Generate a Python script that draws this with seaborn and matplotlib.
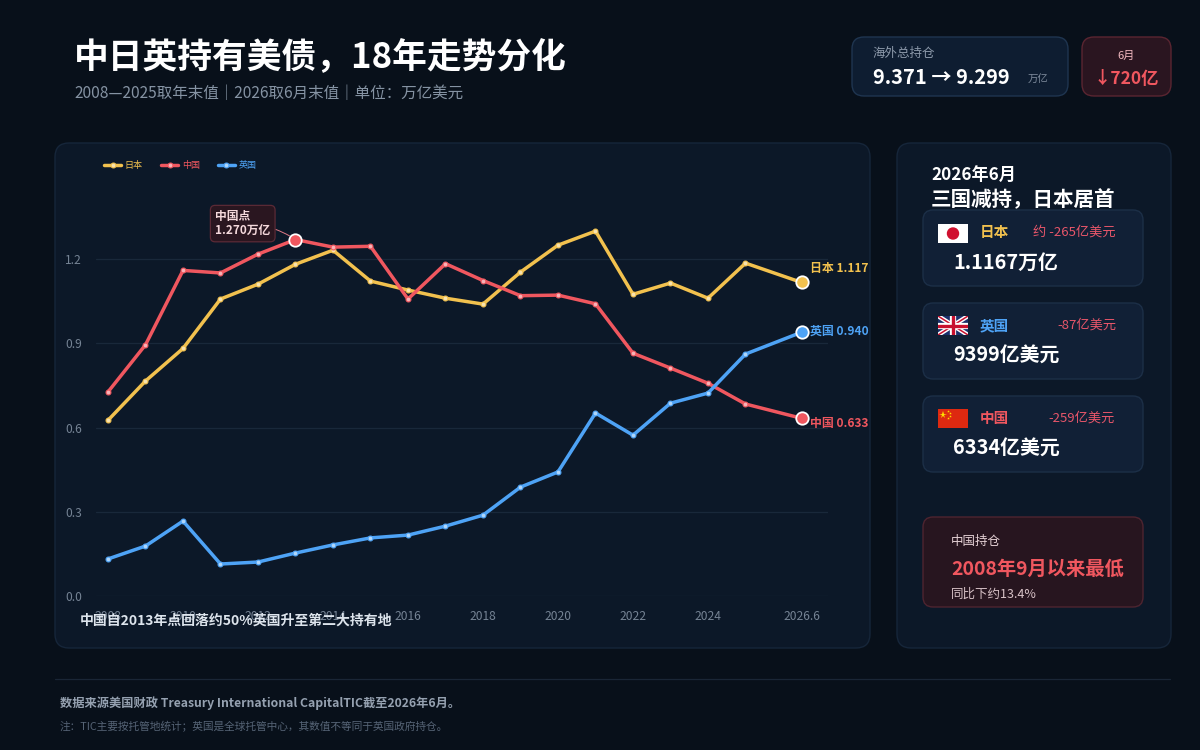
import matplotlib
matplotlib.use("Agg")
import matplotlib.pyplot as plt
from matplotlib.patches import FancyBboxPatch, Rectangle, Circle
import numpy as np
import pandas as pd
import seaborn as sns

# 数据（万亿美元），2008—2025 年末值，最后一点为 2026 年 6 月
years = [2008, 2009, 2010, 2011, 2012, 2013, 2014, 2015, 2016, 2017,
         2018, 2019, 2020, 2021, 2022, 2023, 2024, 2025, 2026.5]
japan = [0.626, 0.766, 0.882, 1.058, 1.111, 1.182, 1.232, 1.122, 1.090, 1.061,
         1.040, 1.154, 1.250, 1.300, 1.075, 1.115, 1.061, 1.186, 1.117]
china = [0.727, 0.895, 1.160, 1.151, 1.218, 1.270, 1.243, 1.246, 1.058, 1.184,
         1.124, 1.070, 1.072, 1.041, 0.865, 0.812, 0.758, 0.684, 0.633]
uk = [0.132, 0.178, 0.267, 0.114, 0.121, 0.153, 0.182, 0.207, 0.217, 0.249,
      0.288, 0.388, 0.442, 0.652, 0.573, 0.687, 0.723, 0.862, 0.940]

countries = ["日本", "中国", "英国"]
series = {"日本": japan, "中国": china, "英国": uk}
colors = {"日本": "#f2c14e", "中国": "#f0575f", "英国": "#4ea3f6"}
label_dy = {"日本": 10, "中国": -3.5, "英国": 1}

xtick_pos = [2008, 2010, 2012, 2014, 2016, 2018, 2020, 2022, 2024, 2026.5]
xtick_labels = ["2008", "2010", "2012", "2014", "2016", "2018", "2020", "2022", "2024", "2026.6"]
ytick_pos = [0.0, 0.3, 0.6, 0.9, 1.2]

BG = "#08101a"
PANEL = "#0c1828"
PANEL_EDGE = "#16263a"
CARD = "#112036"
CARD_EDGE = "#1c2f47"
RED_CARD = "#27151f"
RED_EDGE = "#4e2430"
W, H = 1200, 750

sns.set_theme(style="dark")
plt.rcParams["font.family"] = ["Noto Sans CJK SC", "DejaVu Sans"]

fig = plt.figure(figsize=(12, 7.5), dpi=100, facecolor=BG)


def box(x0, y0, x1, y1, fc, ec, r=0.12, lw=1.0, z=-2):
    # 像素坐标（左上为原点）→ 英寸
    p = FancyBboxPatch((x0 / 100, (H - y1) / 100), (x1 - x0) / 100, (y1 - y0) / 100,
                       boxstyle=f"round,pad=0,rounding_size={r}",
                       transform=fig.dpi_scale_trans, facecolor=fc, edgecolor=ec,
                       linewidth=lw, zorder=z)
    fig.patches.append(p)


def txt(x, y, s, size, color, weight="normal", ha="left"):
    fig.text(x / W, 1 - y / H, s, fontsize=size, color=color, fontweight=weight,
             ha=ha, va="center", zorder=5)


# 标题
txt(74, 58, "中日英持有美债，18年走势分化", 25, "#ffffff", "bold")
txt(74, 93, "2008—2025取年末值｜2026取6月末值｜单位：万亿美元", 11.2, "#8593a3")

# 顶部卡片
box(852, 37, 1068, 96, "#0e1d31", "#1f3550")
txt(873, 53, "海外总持仓", 9, "#8d9aab")
txt(873, 78, "9.371 → 9.299", 14.5, "#ffffff", "bold")
txt(1028, 79, "万亿", 7.5, "#7d8a9b")
box(1082, 37, 1171, 96, "#2a1520", "#5a2531")
txt(1126, 56, "6月", 8, "#f3b9c0", ha="center")
txt(1126, 79, "↓720亿", 12.5, "#f0575f", "bold", ha="center")

# 面板
box(55, 143, 870, 648, PANEL, PANEL_EDGE, r=0.14, z=-3)
box(897, 143, 1171, 648, PANEL, PANEL_EDGE, r=0.14, z=-3)

# 主图
ax = fig.add_axes([96 / W, 1 - 596 / H, (828 - 96) / W, (596 - 175) / H])
ax.set_zorder(1)
ax.patch.set_alpha(0)
df = pd.concat([pd.DataFrame({"year": years, "value": series[c], "country": c})
                for c in countries], ignore_index=True)
sns.lineplot(data=df, x="year", y="value", hue="country", hue_order=countries,
             palette=colors, linewidth=2.5, marker="o", markersize=3.5,
             markeredgewidth=0.8, legend=False, ax=ax, errorbar=None)

for line, c in zip(ax.lines[:3], countries):
    rgb = np.array(matplotlib.colors.to_rgb(colors[c]))
    line.set_markerfacecolor(rgb * 0.45 + 0.55)
    line.set_markeredgecolor(colors[c])
    line.set_solid_capstyle("round")
    line.set_solid_joinstyle("round")

leg = ax.legend(ax.lines[:3], countries, loc="upper left",
                bbox_to_anchor=(96 / W, 1 - 153 / H), bbox_transform=fig.transFigure,
                ncol=3, frameon=False, fontsize=6.5, labelcolor="linecolor",
                handlelength=1.9, handletextpad=0.4, columnspacing=2.0)

for c in countries:
    vals = series[c]
    ax.scatter([years[-1]], [vals[-1]], s=80, color=colors[c], edgecolor="white",
               linewidth=1.3, zorder=6)
    ax.annotate(f"{c} {vals[-1]:.3f}", (years[-1], vals[-1]), xytext=(6, label_dy[c]),
                textcoords="offset points", color=colors[c], fontsize=8.6,
                fontweight="bold", va="center", annotation_clip=False)

peak = china.index(max(china))
ax.scatter([years[peak]], [china[peak]], s=80, color=colors["中国"], edgecolor="white",
           linewidth=1.3, zorder=6)
ax.annotate(f"中国点\n{china[peak]:.3f}万亿", (years[peak], china[peak]),
            xytext=(-38, 11.5), textcoords="offset points", ha="center", va="center",
            multialignment="left", fontsize=8.5, fontweight="bold", color="#f5d9dc",
            linespacing=1.1,
            bbox=dict(boxstyle="round,pad=0.4,rounding_size=0.4", fc="#2a1620",
                      ec="#5b2a36", lw=0.9),
            arrowprops=dict(arrowstyle="-", color="#e07a86", lw=0.7,
                            shrinkA=0, shrinkB=5, connectionstyle="arc3,rad=-0.15"),
            zorder=7)

ax.set_xlim(2007.68, 2027.2)
ax.set_ylim(0, 1.5)
ax.set_xticks(xtick_pos, xtick_labels)
ax.set_yticks(ytick_pos, [f"{v:.1f}" for v in ytick_pos])
ax.tick_params(axis="both", length=0, labelsize=8.7, labelcolor="#75839465"[:7])
ax.tick_params(axis="x", pad=10)
ax.tick_params(axis="y", pad=10)
ax.yaxis.grid(True, color="#19283a", linewidth=0.9)
ax.xaxis.grid(False)
for s in ax.spines.values():
    s.set_visible(False)
ax.set_xlabel("")
ax.set_ylabel("")

txt(80, 621, "中国自2013年点回落约50%英国升至第二大持有地", 10, "#dde4ec", "bold")

# 右侧面板
txt(931, 175, "2026年6月", 12.3, "#ffffff", "bold")
txt(931, 200, "三国减持，日本居首", 14.8, "#ffffff", "bold")

cards = [
    (210, "日本", "约 -265亿美元", "1.1167万亿", 1033),
    (303, "英国", "-87亿美元", "9399亿美元", 1057),
    (396, "中国", "-259亿美元", "6334亿美元", 1048),
]
for top, name, delta, total, dx in cards:
    box(923, top, 1143, top + 76, CARD, CARD_EDGE, r=0.1, z=-1)
    txt(980, top + 22, name, 10.5, colors[name], "bold")
    txt(dx, top + 22, delta, 9.5, "#e8566a")
    txt(953, top + 52, total, 14.3, "#ffffff", "bold")

# 国旗
fa = fig.add_axes([938 / W, 1 - 243 / H, 30 / W, 19 / H])
fa.set_zorder(2)
fa.set_xlim(0, 30); fa.set_ylim(0, 19); fa.axis("off")
fa.add_patch(Rectangle((0, 0), 30, 19, color="white"))
fa.add_patch(Circle((15, 9.5), 5.5, color="#d0102f"))

fb = fig.add_axes([938 / W, 1 - 335 / H, 30 / W, 19 / H])
fb.set_zorder(2)
fb.set_xlim(0, 30); fb.set_ylim(0, 19); fb.axis("off")
fb.add_patch(Rectangle((0, 0), 30, 19, color="#1b2f6b"))
fb.plot([0, 30], [0, 19], color="white", lw=3.2, solid_capstyle="butt")
fb.plot([0, 30], [19, 0], color="white", lw=3.2, solid_capstyle="butt")
fb.plot([0, 30], [0, 19], color="#c8102e", lw=1.1)
fb.plot([0, 30], [19, 0], color="#c8102e", lw=1.1)
fb.plot([15, 15], [0, 19], color="white", lw=4.5)
fb.plot([0, 30], [9.5, 9.5], color="white", lw=4.5)
fb.plot([15, 15], [0, 19], color="#c8102e", lw=2.4)
fb.plot([0, 30], [9.5, 9.5], color="#c8102e", lw=2.4)

fc = fig.add_axes([938 / W, 1 - 428 / H, 30 / W, 19 / H])
fc.set_zorder(2)
fc.set_xlim(0, 30); fc.set_ylim(0, 19); fc.axis("off")
fc.add_patch(Rectangle((0, 0), 30, 19, color="#de2910"))
fc.plot([5], [13.5], marker="*", color="#ffde00", markersize=5.5, mew=0)
fc.plot([10, 12, 12, 10], [17, 15, 12, 10], marker="*", ls="none", color="#ffde00",
        markersize=2, mew=0)

box(923, 517, 1143, 607, RED_CARD, RED_EDGE, r=0.1, z=-1)
txt(951, 542, "中国持仓", 9, "#e6d2d6")
txt(951, 569, "2008年9月以来最低", 13.9, "#f0575f", "bold")
txt(951, 594, "同比下约13.4%", 9, "#d9c3c8")

# 底部
fig.add_artist(plt.Line2D([55 / W, 1170 / W], [1 - 679 / H, 1 - 679 / H],
                          color="#1a2636", lw=0.9))
txt(60, 703, "数据来源美国财政 Treasury International CapitalTIC截至2026年6月。",
    8.8, "#95a1b0", "bold")
txt(60, 727, "注：TIC主要按托管地统计；英国是全球托管中心，其数值不等同于英国政府持仓。",
    7.7, "#566476")

fig.savefig("out.png", dpi=100, facecolor=BG)
